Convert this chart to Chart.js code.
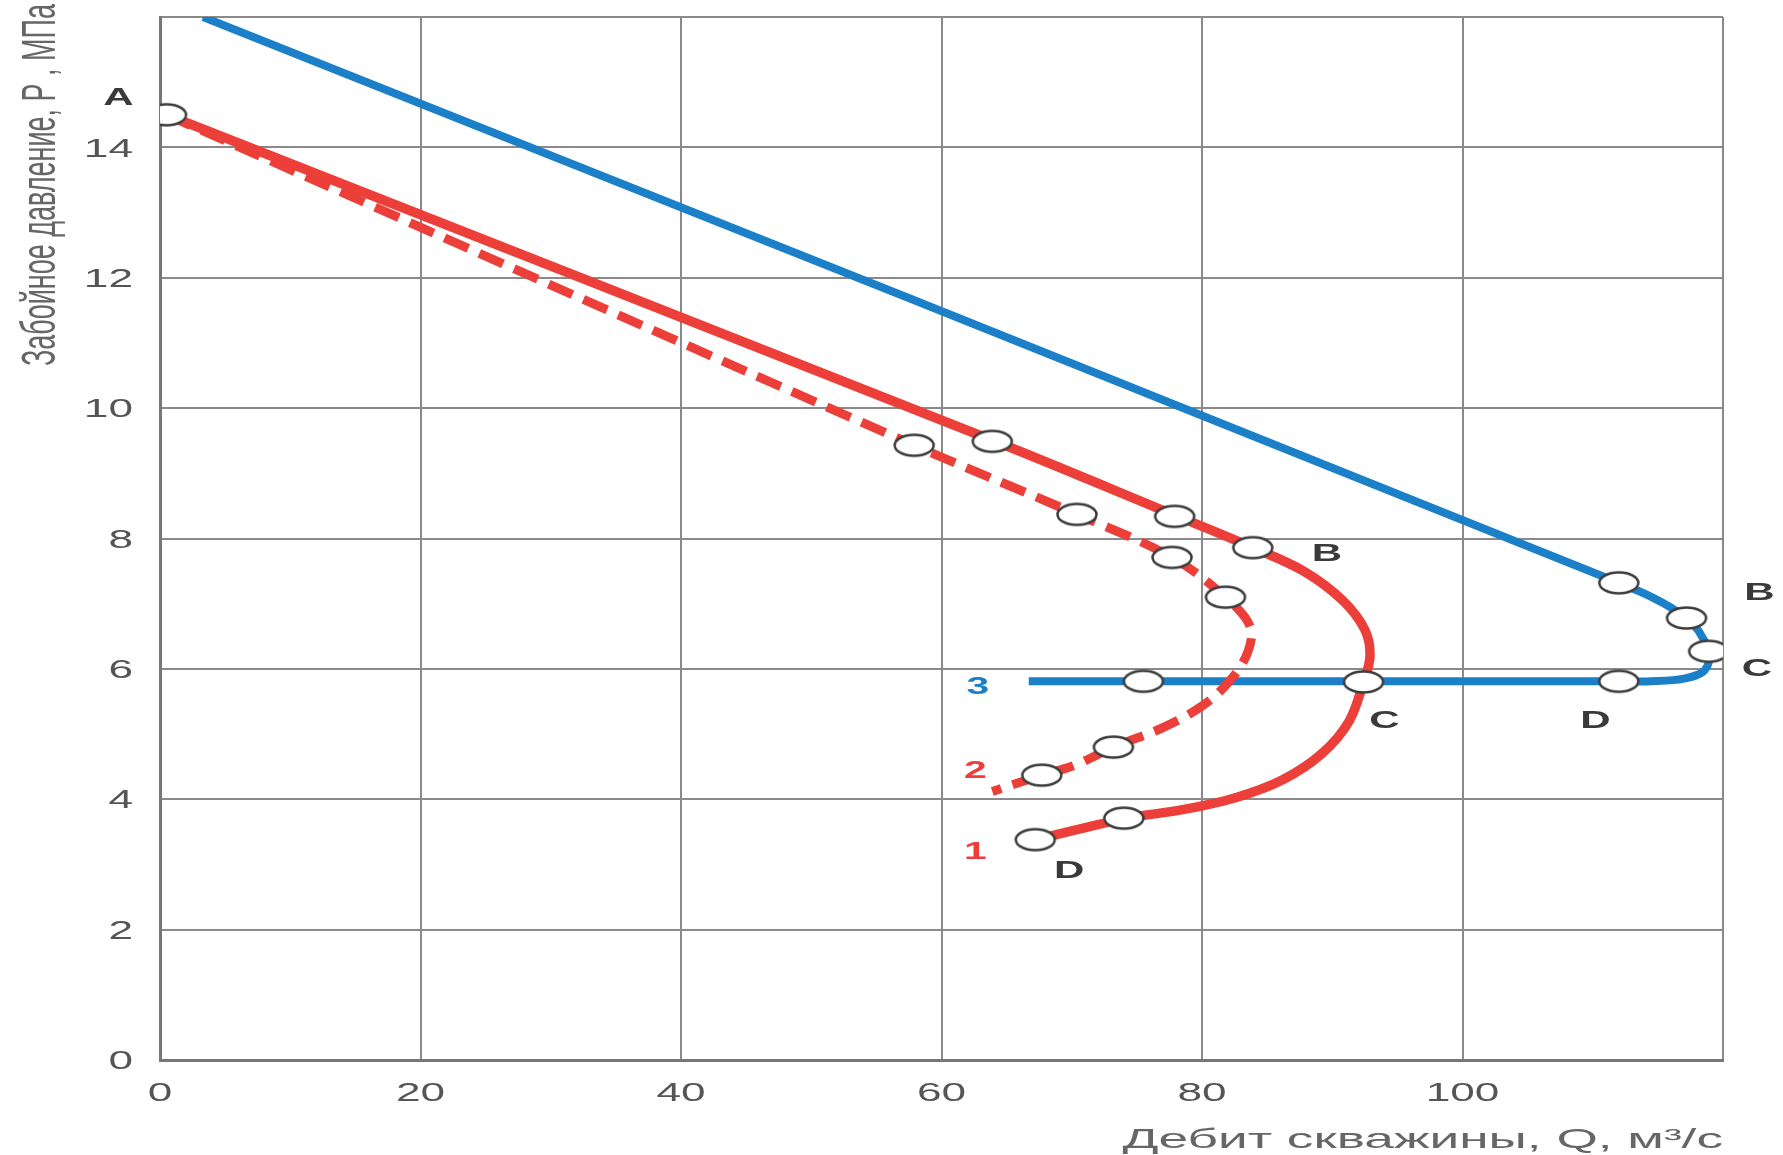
<!DOCTYPE html>
<html><head><meta charset="utf-8">
<script src="https://cdn.jsdelivr.net/npm/chart.js@4/dist/chart.umd.min.js"></script>
<style>html,body{margin:0;padding:0;background:#fff;overflow:hidden}canvas{display:block}</style>
</head><body>
<canvas id="c" width="1783" height="1155"></canvas>
<script>
// ---- tick labels ----
const xTickLabels = ['0', '20', '40', '60', '80', '100'];
const yTickLabels = ['0', '2', '4', '6', '8', '10', '12', '14'];
const xTitle = 'Дебит скважины, Q, м³/с';
const yTitle = 'Забойное давление, P , МПа';

// ---- curve 1 (solid red) ----
const curve1Q = [0.5, 64.0, 78.0, 83.9, 87.8, 90.8, 92.5, 92.9, 92.4, 91.3, 89.2, 86.2, 82.5, 78.5, 74.0, 67.2];
const curve1P = [14.5, 9.5, 8.35, 7.86, 7.5, 7.05, 6.6, 6.2, 5.8, 5.2, 4.7, 4.3, 4.02, 3.84, 3.7, 3.38];
const marks1Q = [0.5, 63.9, 77.9, 83.9, 92.4, 74.0, 67.2];
const marks1P = [14.5, 9.49, 8.34, 7.86, 5.80, 3.71, 3.38];

// ---- curve 2 (dashed red) ----
const curve2Q = [0.5, 57.9, 70.4, 77.7, 81.8, 83.7, 83.5, 82.1, 80.0, 77.0, 73.2, 70.2, 67.7, 63.9];
const curve2P = [14.5, 9.43, 8.37, 7.71, 7.10, 6.65, 6.25, 5.81, 5.43, 5.10, 4.80, 4.52, 4.37, 4.12];
const marks2Q = [57.9, 70.4, 77.7, 81.8, 73.2, 67.7];
const marks2P = [9.43, 8.37, 7.71, 7.10, 4.80, 4.37];

// ---- curve 3 (blue) ----
const curve3Q = [3.3, 112.0, 117.2, 118.9, 118.6, 117.0, 114.5, 112.0, 92.4, 75.5, 66.7];
const curve3P = [16.0, 7.32, 6.78, 6.27, 5.98, 5.85, 5.81, 5.81, 5.81, 5.81, 5.81];
const marks3Q = [112.0, 117.2, 118.9, 112.0, 75.5];
const marks3P = [7.32, 6.78, 6.27, 5.81, 5.81];

// ---- point labels ----
const letterText = ['A', 'B', 'C', 'D', 'B', 'C', 'D'];
const letterQ = [-3.2, 89.6, 94.0, 69.8, 122.8, 122.6, 110.2];
const letterP = [14.75, 7.75, 5.2, 2.9, 7.16, 6.0, 5.2];
const curveNumText = ['1', '2', '3'];
const curveNumQ = [62.6, 62.6, 62.8];
const curveNumP = [3.18, 4.42, 5.72];

const RED = '#ec3f3a';
const BLUE = '#1b80c8';

function pts(qs, ps) { return qs.map((q, i) => ({ x: q, y: ps[i] })); }

function makeMarker() {
  const c = document.createElement('canvas');
  c.width = 46; c.height = 28;
  const g = c.getContext('2d');
  g.beginPath();
  g.ellipse(23, 14, 19.5, 10.5, 0, 0, 2 * Math.PI);
  g.fillStyle = '#ffffff';
  g.fill();
  g.lineWidth = 2.5;
  g.strokeStyle = '#3c3c3c';
  g.stroke();
  return c;
}
const marker = makeMarker();

function markerSet(qs, ps) {
  return {
    data: pts(qs, ps), showLine: false, pointStyle: marker, pointRadius: 12,
    pointHoverRadius: 12, order: 0
  };
}
function lineSet(qs, ps, color, width, dash, order) {
  return {
    data: pts(qs, ps), showLine: true, borderColor: color, borderWidth: width,
    borderDash: dash, tension: 0.35, pointRadius: 0, pointHoverRadius: 0,
    borderCapStyle: 'butt', borderJoinStyle: 'round', fill: false, order: order
  };
}

function drawText(ctx, text, x, y, font, color, sx, align) {
  ctx.save();
  ctx.font = font;
  ctx.fillStyle = color;
  ctx.textBaseline = 'middle';
  ctx.textAlign = align;
  ctx.translate(x, y);
  ctx.scale(sx, 1);
  ctx.fillText(text, 0, 0);
  ctx.restore();
}

const textPlugin = {
  id: 'stretchedText',
  afterDraw(chart) {
    const ctx = chart.ctx;
    const xs = chart.scales.x, ys = chart.scales.y;
    const area = chart.chartArea;
    const tickFont = '26px "Liberation Sans", Arial, sans-serif';
    xs.ticks.forEach(t => {
      const lab = String(t.value);
      if (xTickLabels.includes(lab)) {
        drawText(ctx, lab, xs.getPixelForValue(t.value), area.bottom + 34, tickFont, '#555', 1.7, 'center');
      }
    });
    ys.ticks.forEach(t => {
      const lab = String(t.value);
      if (yTickLabels.includes(lab)) {
        drawText(ctx, lab, area.left - 27, ys.getPixelForValue(t.value) + 2, tickFont, '#555', 1.7, 'right');
      }
    });
    // x title
    drawText(ctx, xTitle, area.right, area.bottom + 80, '28px "Liberation Sans", Arial, sans-serif', '#666', 1.9, 'right');
    // y title (rotated)
    ctx.save();
    ctx.font = '27px "Liberation Sans", Arial, sans-serif';
    ctx.fillStyle = '#666';
    ctx.textAlign = 'right';
    ctx.textBaseline = 'middle';
    ctx.translate(42, 4);
    ctx.rotate(-Math.PI / 2);
    ctx.scale(1, 1.75);
    ctx.fillText(yTitle, 0, 0);
    ctx.restore();
    // point letters
    letterText.forEach((t, i) => {
      drawText(ctx, t, xs.getPixelForValue(letterQ[i]), ys.getPixelForValue(letterP[i]),
        'bold 24px "Liberation Sans", Arial, sans-serif', '#3a3a3a', 1.75, 'center');
    });
    const numColors = [RED, RED, BLUE];
    curveNumText.forEach((t, i) => {
      drawText(ctx, t, xs.getPixelForValue(curveNumQ[i]), ys.getPixelForValue(curveNumP[i]),
        'bold 24px "Liberation Sans", Arial, sans-serif', numColors[i], 1.7, 'center');
    });
  }
};

new Chart(document.getElementById('c'), {
  type: 'scatter',
  data: {
    datasets: [
      markerSet(marks1Q, marks1P),
      markerSet(marks2Q, marks2P),
      markerSet(marks3Q, marks3P),
      lineSet(curve2Q, curve2P, RED, 9, [26, 12], 1),
      lineSet(curve1Q, curve1P, RED, 9.5, [], 1),
      lineSet(curve3Q, curve3P, BLUE, 8, [], 2)
    ]
  },
  options: {
    responsive: false,
    animation: false,
    devicePixelRatio: 1,
    events: [],
    layout: { padding: { left: 0, right: 60, top: 17, bottom: 0 } },
    plugins: { legend: { display: false }, tooltip: { enabled: false } },
    scales: {
      x: {
        type: 'linear', min: 0, max: 120,
        ticks: { stepSize: 20, display: false },
        grid: { color: '#8a8a8a', lineWidth: 2, drawTicks: false },
        border: { display: true, color: '#777', width: 3 },
        afterFit(s) { s.height = 95; }
      },
      y: {
        type: 'linear', min: 0, max: 16,
        ticks: { stepSize: 2, display: false },
        grid: { color: '#8a8a8a', lineWidth: 2, drawTicks: false },
        border: { display: true, color: '#777', width: 3 },
        afterFit(s) { s.width = 160; }
      }
    }
  },
  plugins: [textPlugin]
});
</script>
</body></html>
